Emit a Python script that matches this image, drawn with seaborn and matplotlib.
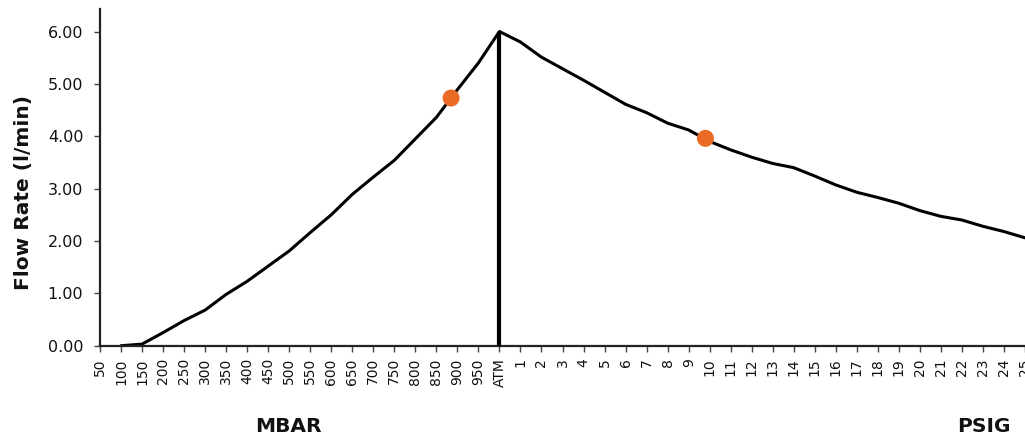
import numpy as np
import pandas as pd
import matplotlib
matplotlib.use("Agg")
import matplotlib.pyplot as plt
import seaborn as sns

# ---- data ----
mbar_labels = [str(v) for v in range(50, 1000, 50)]
psig_labels = [str(v) for v in range(1, 26)]
x_labels = mbar_labels + ["ATM"] + psig_labels

flow = [np.nan, 0.00, 0.03, 0.25, 0.48, 0.68, 0.98, 1.23, 1.52, 1.81,
        2.16, 2.50, 2.89, 3.22, 3.54, 3.95, 4.36, 4.89, 5.40, 6.00,
        5.80, 5.51, 5.29, 5.07, 4.84, 4.61, 4.45, 4.25, 4.12, 3.90,
        3.74, 3.60, 3.48, 3.40, 3.24, 3.07, 2.93, 2.83, 2.72, 2.58,
        2.47, 2.40, 2.28, 2.18, 2.06]

dot_x = [16.7, 28.8]
dot_y = [4.73, 3.96]

y_ticks = [0, 1, 2, 3, 4, 5, 6]

df = pd.DataFrame({"pos": np.arange(len(x_labels)), "flow": flow})
dots = pd.DataFrame({"pos": dot_x, "flow": dot_y})

sns.set_style("ticks")
plt.rcParams["font.family"] = ["DejaVu Sans"]

txt = "#111111"
fig = plt.figure(figsize=(10.25, 4.38), dpi=100)
ax = fig.add_axes([100 / 1025, 1 - 345.7 / 438, 1 - 100 / 1025, (345.7 - 9) / 438])

sns.lineplot(data=df, x="pos", y="flow", ax=ax, color="black", linewidth=2.2)
atm_i = x_labels.index("ATM")
ax.vlines(atm_i, 0, flow[atm_i], color="black", linewidth=3.0, zorder=3)
sns.scatterplot(data=dots, x="pos", y="flow", ax=ax, color="#EA6B25",
                s=150, edgecolor="none", zorder=4)

ax.set_xlim(0, 43.76)
ax.set_ylim(0, 6.43)
ax.set_xticks(np.arange(len(x_labels)))
ax.set_xticklabels(x_labels, rotation=90, fontsize=10, color=txt)
ax.set_yticks(y_ticks)
ax.set_yticklabels([f"{v:.2f}" for v in y_ticks], fontsize=11.5, color=txt)
ax.tick_params(axis="x", direction="out", length=4, width=1.0, color="#444444", pad=5)
ax.tick_params(axis="y", direction="out", length=4, width=1.0, color="#444444", pad=8)
ax.set_xlabel("")
ax.set_ylabel("Flow Rate (l/min)", fontsize=14.5, fontweight="bold", color=txt)
ax.yaxis.set_label_coords(-0.0725, 0.456)

for side in ["top", "right"]:
    ax.spines[side].set_visible(False)
for side in ["left", "bottom"]:
    ax.spines[side].set_linewidth(1.6)
    ax.spines[side].set_color("#222222")

fig.text(288 / 1025, 1 - 427 / 438, "MBAR", fontsize=14.5, fontweight="bold",
         ha="center", va="center", color=txt)
fig.text(984 / 1025, 1 - 427 / 438, "PSIG", fontsize=14.5, fontweight="bold",
         ha="center", va="center", color=txt)

fig.savefig("out.png", dpi=100, facecolor="white")
